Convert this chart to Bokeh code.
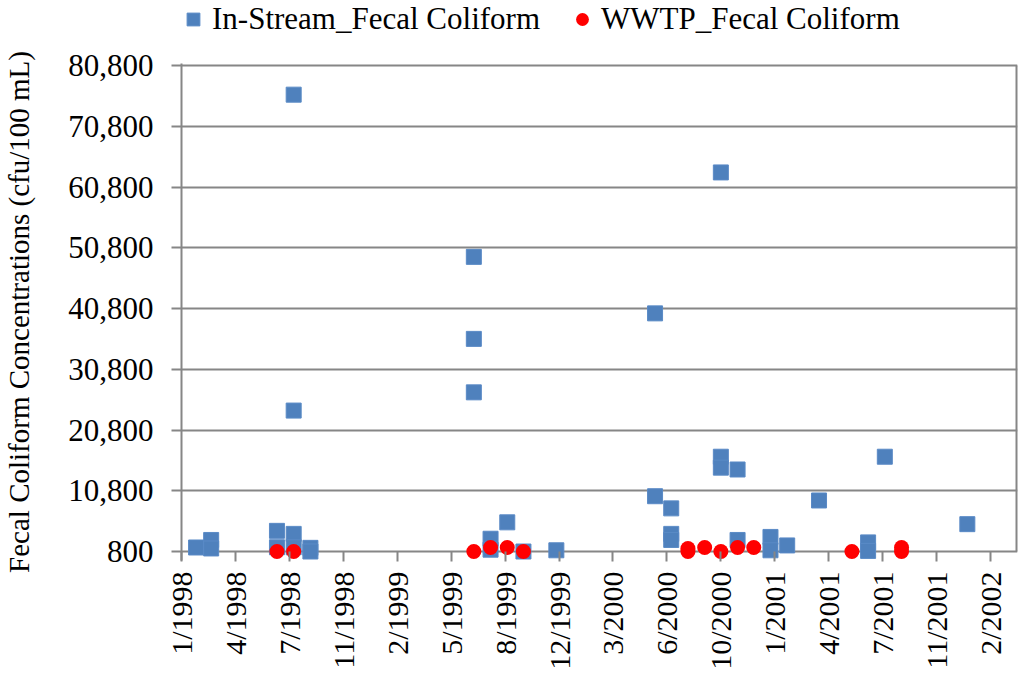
import math
import pandas as pd
from bokeh.plotting import figure
from bokeh.layouts import column
from bokeh.models import (Range1d, FixedTicker, NumeralTickFormatter, ColumnDataSource,
                          Legend, LegendItem)
from bokeh.embed import file_html
from bokeh.resources import INLINE

# ---------------- data ----------------
instream_dates = [
    "1998-02-01",
    "1998-03-01", "1998-03-01",
    "1998-07-01", "1998-07-01",
    "1998-08-01", "1998-08-01", "1998-08-01", "1998-08-01",
    "1998-09-01", "1998-09-01",
    "1999-07-01", "1999-07-01", "1999-07-01",
    "1999-08-01", "1999-08-01",
    "1999-09-01",
    "1999-10-01",
    "1999-12-01",
    "2000-06-01", "2000-06-01",
    "2000-07-01", "2000-07-01", "2000-07-01",
    "2000-10-01", "2000-10-01", "2000-10-01",
    "2000-11-01", "2000-11-01",
    "2001-01-01", "2001-01-01",
    "2001-02-01",
    "2001-04-01",
    "2001-07-01", "2001-07-01",
    "2001-08-01",
    "2002-01-01",
]
instream_values = [
    1460,
    2700, 1300,
    4200, 1500,
    76000, 24000, 3700, 1500,
    1400, 800,
    49300, 35800, 27000,
    2900, 1100,
    5600,
    800,
    1000,
    40000, 9900,
    7900, 3700, 2700,
    63200, 16400, 14600,
    14300, 2700,
    3200, 1000,
    1800,
    9200,
    2300, 900,
    16400,
    5300,
]

wwtp_dates = [
    "1998-07-01", "1998-08-01",
    "1999-07-01", "1999-08-01", "1999-09-01", "1999-10-01",
    "2000-08-01", "2000-08-01", "2000-09-01", "2000-10-01",
    "2000-11-01", "2000-12-01",
    "2001-06-01", "2001-09-01", "2001-09-01",
]
wwtp_values = [
    800, 800,
    800, 1460, 1460, 800,
    1300, 800, 1460, 800,
    1460, 1460,
    800, 1460, 800,
]

series_names = ["In-Stream_Fecal Coliform", "WWTP_Fecal Coliform"]
x_tick_labels = ["1/1998", "4/1998", "7/1998", "11/1998", "2/1999", "5/1999",
                 "8/1999", "12/1999", "3/2000", "6/2000", "10/2000", "1/2001",
                 "4/2001", "7/2001", "11/2001", "2/2002"]
y_ticks = [800, 10800, 20800, 30800, 40800, 50800, 60800, 70800, 80800]

axis_start_date = "1998-01-05"
axis_step_days = 100
axis_span_days = 1550

# ---------------- helpers ----------------
EPOCH = pd.Timestamp("1899-12-30")


def serial(dates):
    return [int((pd.Timestamp(d) - EPOCH).days) for d in dates]


x0 = serial([axis_start_date])[0]
x1 = x0 + axis_span_days
x_ticks = [x0 + axis_step_days * i for i in range(len(x_tick_labels))]
y_min, y_max = y_ticks[0], y_ticks[-1]
# small margins so that markers on the axis and the top grid line are not clipped
y_pad_low = 1481
y_pad_high = 330

src_in = ColumnDataSource(dict(x=serial(instream_dates), y=instream_values))
src_ww = ColumnDataSource(dict(x=serial(wwtp_dates), y=wwtp_values))

GRAY = "#868686"
FONT = "Liberation Serif"
BLUE = "#4F81BD"
BLUE_EDGE = "#5A8AC6"
RED = "#FF0000"

W = 1022
LEG_H = 38

# ---------------- legend strip ----------------
leg = figure(width=W, height=LEG_H, output_backend="svg", toolbar_location=None,
             x_range=Range1d(0, 1), y_range=Range1d(0, 1),
             x_axis_type=None, y_axis_type=None,
             min_border=0, outline_line_color=None,
             background_fill_color="white", border_fill_color="white")
lr1 = leg.scatter("x", "y", source=src_in, marker="square", size=15,
                  fill_color=BLUE, line_color=BLUE_EDGE, line_width=1)
lr2 = leg.scatter("x", "y", source=src_ww, marker="circle", size=15,
                  fill_color=RED, line_color=None)
lg = Legend(items=[LegendItem(label=series_names[0], renderers=[lr1]),
                   LegendItem(label=series_names[1], renderers=[lr2])])
lg.orientation = "horizontal"
lg.location = (-4, 1)
lg.label_text_font = FONT
lg.label_text_font_size = "31px"
lg.label_text_color = "black"
lg.glyph_width = 32
lg.glyph_height = 32
lg.label_standoff = 3
lg.spacing = 26
lg.padding = 0
lg.margin = 0
lg.border_line_color = None
lg.background_fill_alpha = 0
leg.add_layout(lg)

# ---------------- main plot ----------------
p = figure(width=W, height=676 - LEG_H, output_backend="svg", toolbar_location=None,
           x_range=Range1d(x0, x1),
           y_range=Range1d(y_min - y_pad_low, y_max + y_pad_high),
           min_border_left=177, min_border_right=5, min_border_top=63 - LEG_H,
           min_border_bottom=116,
           background_fill_color="white", border_fill_color="white")

p.xgrid.visible = False
p.ygrid.ticker = FixedTicker(ticks=y_ticks)
p.ygrid.grid_line_color = GRAY
p.ygrid.grid_line_width = 2
p.outline_line_color = None
p.segment(x0=[x1], y0=[y_min], x1=[x1], y1=[y_max], line_color=GRAY, line_width=4)

p.scatter("x", "y", source=src_in, marker="square", size=15,
          fill_color=BLUE, line_color=BLUE_EDGE, line_width=1)
p.scatter("x", "y", source=src_ww, marker="circle", size=15,
          fill_color=RED, line_color=None)

# x axis (its line is the 800 grid line; ticks reach up into the frame to it)
xa = p.xaxis[0]
xa.ticker = FixedTicker(ticks=x_ticks)
xa.major_label_overrides = dict(zip(x_ticks, x_tick_labels))
xa.major_label_orientation = math.pi / 2
xa.major_label_text_font = FONT
xa.major_label_text_font_size = "30px"
xa.major_label_text_color = "black"
xa.major_label_standoff = 10
xa.major_tick_out = 1
xa.major_tick_in = 9
xa.minor_tick_line_color = None
xa.axis_line_color = None
xa.major_tick_line_color = GRAY
xa.major_tick_line_width = 2

# y axis
ya = p.yaxis[0]
ya.ticker = FixedTicker(ticks=y_ticks)
ya.formatter = NumeralTickFormatter(format="0,0")
ya.major_label_text_font = FONT
ya.major_label_text_font_size = "31px"
ya.major_label_text_color = "black"
ya.major_label_standoff = 18
ya.major_tick_out = 10
ya.major_tick_in = 0
ya.minor_tick_line_color = None
ya.axis_line_color = GRAY
ya.axis_line_width = 2
ya.major_tick_line_color = GRAY
ya.major_tick_line_width = 2
ya.axis_label = "Fecal Coliform Concentrations (cfu/100 mL)"
ya.axis_label_text_font = FONT
ya.axis_label_text_font_size = "29px"
ya.axis_label_text_font_style = "normal"
ya.axis_label_text_color = "black"
ya.axis_label_standoff = 30

page = column(leg, p, spacing=0)
open("out.html", "w").write(file_html(page, INLINE))
